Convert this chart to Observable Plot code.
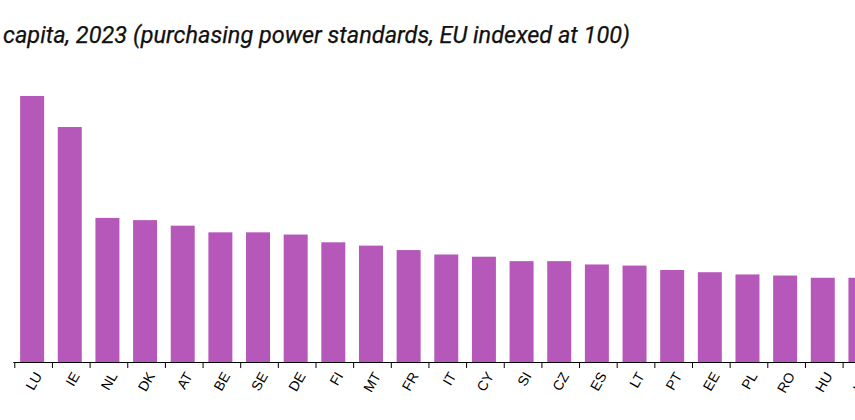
<!DOCTYPE html>
<html>
<head>
<meta charset="utf-8">
<script src="https://cdn.jsdelivr.net/npm/d3@7"></script>
<script src="https://cdn.jsdelivr.net/npm/@observablehq/plot@0.6"></script>
<style>
  html, body { margin: 0; padding: 0; background: #fff; overflow: hidden; }
  #wrap { position: relative; width: 855px; height: 420px; overflow: hidden; }
  #title { position: absolute; left: 3px; top: 23px; font-family: Roboto, sans-serif; font-style: italic;
           font-size: 24px; line-height: 24px; white-space: nowrap; transform-origin: 0 0; color: #111;
           -webkit-text-stroke: 0.25px #111; }
  #chart { position: absolute; left: 0; top: 0; }
</style>
</head>
<body>
<div id="wrap">
  <div id="chart"></div>
  <div id="title"><span id="titletext"></span></div>
</div>
<script>
// ---- data ----
const titleText = "capita, 2023 (purchasing power standards, EU indexed at 100)";
const countries = ["LU","IE","NL","DK","AT","BE","SE","DE","FI","MT","FR","IT","CY","SI","CZ","ES","LT","PT","EE","PL","RO","HU","HR"];
const values    = [240, 212, 130, 128, 123, 117, 117, 115, 108, 105, 101, 97, 95, 91, 91, 88, 87, 83, 81, 79, 78, 76, 76];

const data = countries.map((c, i) => ({country: c, value: values[i]}));

const W = 880, H = 420;
const mL = 13.3;
const stepPx = 37.65;
const mR = W - mL - countries.length * stepPx;
const step = (W - mL - mR) / countries.length;

const chart = Plot.plot({
  width: W,
  height: H,
  marginTop: 96,
  marginBottom: 58,
  marginLeft: mL,
  marginRight: mR,
  style: {fontFamily: "'Liberation Sans', Arial, sans-serif", fontSize: "14px", maxWidth: "none", background: "#fff"},
  x: {domain: countries, paddingInner: 0.363, paddingOuter: 0.1815, round: false, axis: null, label: null},
  y: {domain: [0, 240], axis: null, label: null},
  marks: [
    Plot.barY(data, {x: "country", y: "value", fill: "#b657ba"}),
    Plot.ruleY([0], {stroke: "#000", strokeWidth: 1}),
    Plot.axisX({tickSize: 6, tickFormat: () => "", dx: -step / 2 + 1, stroke: "#000", label: null}),
    Plot.axisX({tickSize: 0, tickPadding: 11, tickRotate: -60, dx: 6, fill: "#000", label: null})
  ]
});
chart.style.maxWidth = "none";
document.getElementById("chart").appendChild(chart);

const t = document.getElementById("titletext");
t.textContent = titleText;
const w = t.getBoundingClientRect().width;
document.getElementById("title").style.transform = `scaleX(${627 / w})`;
</script>
</body>
</html>
